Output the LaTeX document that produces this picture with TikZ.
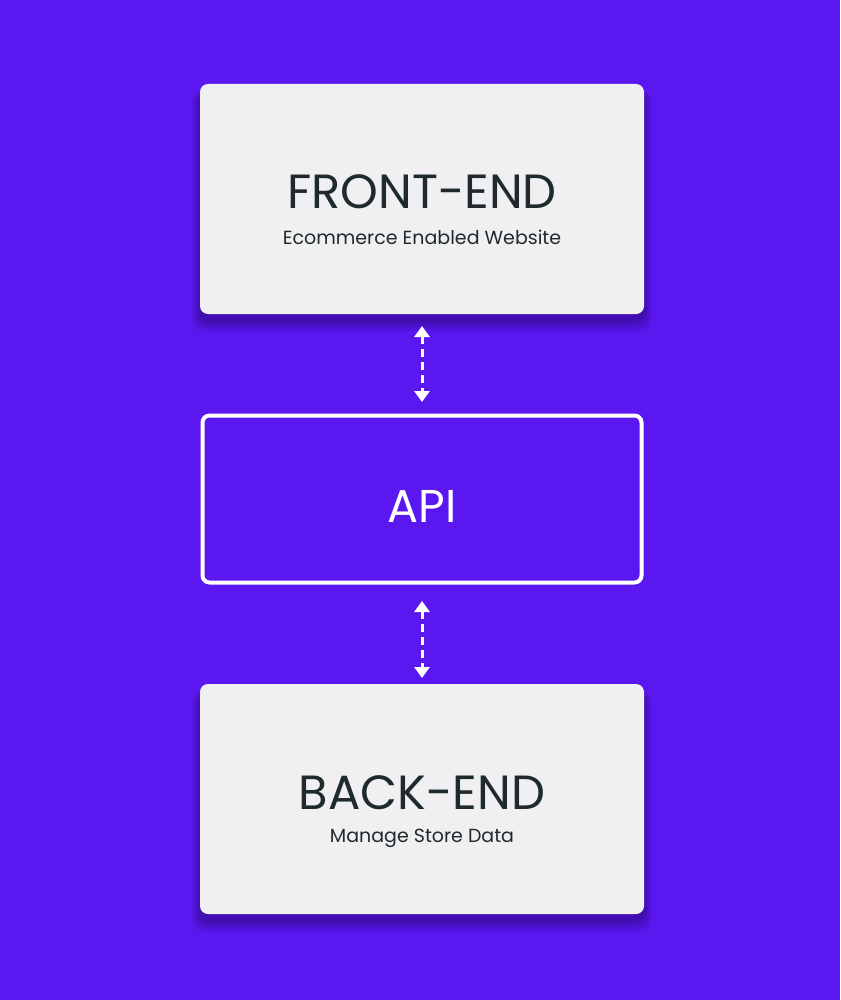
\documentclass[tikz,border=0pt]{standalone}
\usepackage{fontspec}
\setmainfont{Poppins}
\usetikzlibrary{arrows.meta}
\definecolor{bg}{HTML}{5B17F0}
\definecolor{card}{HTML}{F0F0F2}
\definecolor{ink}{HTML}{1F2A2A}
\begin{document}
\begin{tikzpicture}[x=1pt,y=-1pt,
  card/.style={fill=card,rounded corners=8pt,minimum width=444pt,minimum height=230pt,draw=none},
  arr/.style={white,line width=3pt,dash pattern=on 8pt off 5pt,{Triangle[length=11pt,width=15pt]}-{Triangle[length=11pt,width=15pt]}}]
\fill[bg] (0,0) rectangle (840,1000);
\useasboundingbox (0,0) rectangle (840,1000);
% shadows
\foreach \i in {1,...,8}{
  \fill[black,opacity=0.035,rounded corners=12pt] (200-\i,84+6) rectangle (644+\i,314+6+1.5*\i);
  \fill[black,opacity=0.035,rounded corners=12pt] (200-\i,685+6) rectangle (644+\i,914+6+1.5*\i);
}
\node[card] (fe) at (422,199) {};
\node[font=\fontsize{48}{50}\selectfont,text=ink] (fet) at (422,192) {FRONT-END};
\node[font=\fontsize{19}{22}\selectfont,text=ink] (fes) at (422,237) {Ecommerce Enabled Website};
\node[draw=white,line width=4pt,rounded corners=7pt,minimum width=439pt,minimum height=167pt] (api) at (422,499) {};
\node[font=\fontsize{46}{50}\selectfont,text=white] (apit) at (422,506) {API};
\node[card] (be) at (422,799) {};
\node[font=\fontsize{48}{50}\selectfont,text=ink] (bet) at (422,793) {BACK-END};
\node[font=\fontsize{19}{22}\selectfont,text=ink] (bes) at (422,838) {Manage Store Data};
\coordinate (a1) at (422,326); \coordinate (a2) at (422,402);
\coordinate (b1) at (422,601); \coordinate (b2) at (422,678);
\draw[arr] (a1) -- (a2);
\draw[arr] (b1) -- (b2);
\end{tikzpicture}
\end{document}
